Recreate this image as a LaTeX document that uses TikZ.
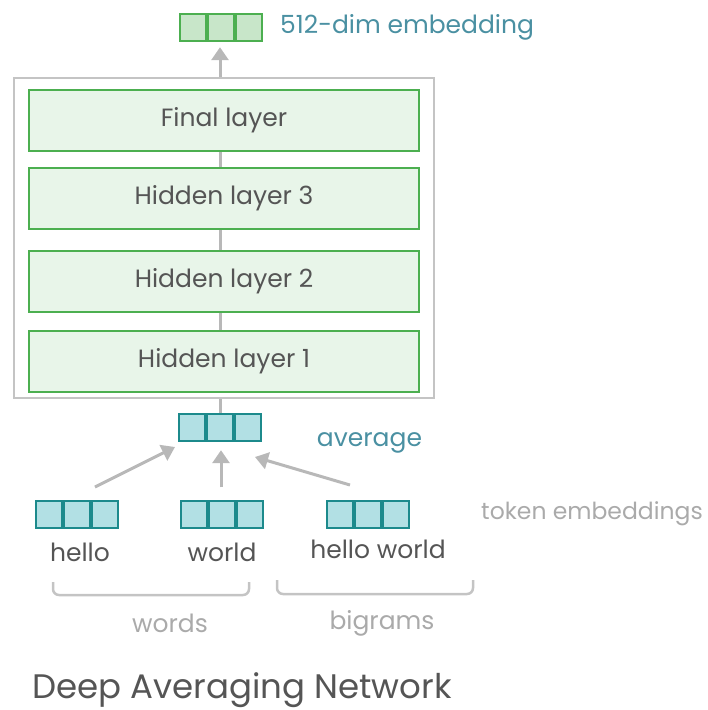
\documentclass[tikz,border=0pt]{standalone}
\usepackage{fontspec}
\setmainfont{Poppins}
\usetikzlibrary{arrows.meta,calc,fit}
\definecolor{txtdark}{HTML}{555555}
\definecolor{txtgray}{HTML}{AAAAAA}
\definecolor{txtteal}{HTML}{4A90A2}
\definecolor{grnline}{HTML}{4CAF50}
\definecolor{grnfill}{HTML}{E8F5E9}
\definecolor{grnfill2}{HTML}{C8E6C9}
\definecolor{tealline}{HTML}{1C8A8C}
\definecolor{tealfill}{HTML}{B2E0E4}
\definecolor{arrgray}{HTML}{B8B8B8}
\definecolor{boxgray}{HTML}{C4C4C4}
\tikzset{
  layerbox/.style={draw=grnline, fill=grnfill, line width=2pt, minimum width=390pt, minimum height=61pt, inner sep=0pt, text=txtdark, font=\fontsize{25}{28}\selectfont},
  cell/.style={draw=#1, line width=2pt, minimum width=26pt, minimum height=27pt, inner sep=0pt},
  conn/.style={draw=arrgray, line width=3pt},
  arr/.style={conn, -{Triangle[length=13pt,width=17pt]}},
  lbl/.style={inner sep=0pt, font=\fontsize{25}{28}\selectfont},
  brc/.style={draw=boxgray, line width=2.5pt, rounded corners=6pt}
}
\newcommand{\vecnode}[4]{% name, center, line color, fill color
  \node[cell=#3, fill=#4] (#1-2) at (#2) {};
  \node[cell=#3, fill=#4, anchor=east] (#1-1) at (#1-2.west) {};
  \node[cell=#3, fill=#4, anchor=west] (#1-3) at (#1-2.east) {};
  \node[fit=(#1-1)(#1-3), inner sep=0pt] (#1) {};
}
\begin{document}
\begin{tikzpicture}[x=1pt,y=-1pt]
\useasboundingbox (0,0) rectangle (708,710);
% outer box
\node[draw=boxgray, line width=2pt, minimum width=420pt, minimum height=320pt, inner sep=0pt] (outer) at (224,238) {};
% layers
\node[layerbox] (final) at (224,120) {Final layer};
\node[layerbox] (h3) at (224,198.5) {Hidden layer 3};
\node[layerbox] (h2) at (224,281.5) {Hidden layer 2};
\node[layerbox] (h1) at (224,361.5) {Hidden layer 1};
% top embedding
\vecnode{top}{220.5,27.5}{grnline}{grnfill2}
\node[lbl, text=txtteal, anchor=west] (toplbl) at (280,27) {512-dim embedding};
% average
\vecnode{avg}{219.5,427.5}{tealline}{tealfill}
\node[lbl, text=txtteal] (avglbl) at (369.5,443) {average};
% token embeddings
\vecnode{thello}{77,514}{tealline}{tealfill}
\vecnode{tworld}{221.5,514}{tealline}{tealfill}
\vecnode{thw}{367.5,514}{tealline}{tealfill}
\node[lbl, text=txtdark] (whello) at (80,552) {hello};
\node[lbl, text=txtdark] (wworld) at (222,552) {world};
\node[lbl, text=txtdark] (whw) at (378,549) {hello world};
\node[lbl, text=txtgray, anchor=east, font=\fontsize{23.5}{26}\selectfont] (tokl) at (703,514) {token embeddings};
% braces
\coordinate (wb1) at (53,582);
\coordinate (wb2) at (249,582);
\coordinate (bb1) at (277,580);
\coordinate (bb2) at (473,580);
\draw[brc] (wb1) -- ($(wb1)+(0,13)$) -- ($(wb2)+(0,13)$) -- (wb2);
\draw[brc] (bb1) -- ($(bb1)+(0,14)$) -- ($(bb2)+(0,14)$) -- (bb2);
\node[lbl, text=txtgray] (wordsl) at (170,623) {words};
\node[lbl, text=txtgray] (bigl) at (382,623) {bigrams};
% title
\node[inner sep=0pt, anchor=west, text=txtdark, font=\fontsize{34}{38}\selectfont] (title) at (32,690) {Deep Averaging Network};
% connectors
\draw[conn] (h1.north -| 220,0) -- (h2.south -| 220,0);
\draw[conn] (h2.north -| 220,0) -- (h3.south -| 220,0);
\draw[conn] (h3.north -| 220,0) -- (final.south -| 220,0);
\draw[conn] (avg.north -| 220,0) -- (outer.south -| 220,0);
\draw[arr] (outer.north -| 220,0) -- ($(top.south -| 220,0)+(0,5)$);
\draw[arr] (95,487) -- (175,447);
\draw[arr] (tworld.north -| 221,0) ++(0,-12) -- ($(avg.south -| 221,0)+(0,8)$);
\draw[arr] (350,485) -- (255,457);
\end{tikzpicture}
\end{document}
